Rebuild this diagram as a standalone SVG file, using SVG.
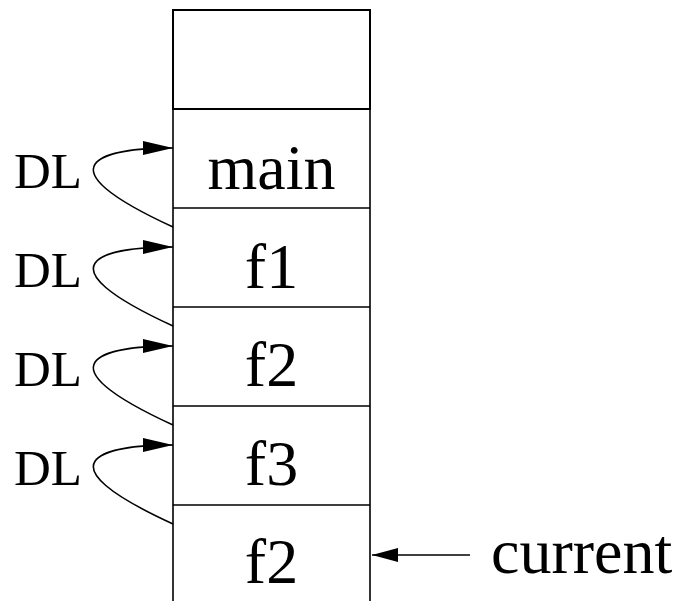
<svg xmlns="http://www.w3.org/2000/svg" width="681" height="601" viewBox="0 0 681 601">
<style>
.ln{stroke:#000;stroke-width:1.6;fill:none}
.lbl{font-family:"Liberation Serif",serif;font-size:64px;fill:#000}
.dl{font-family:"Liberation Serif",serif;font-size:51px;fill:#000}
</style>
<defs>
<marker id="ah" markerUnits="userSpaceOnUse" markerWidth="32" markerHeight="16" refX="30" refY="7" orient="auto">
<path d="M0,0 L30,7 L0,14 Z" fill="#000"/>
</marker>
<marker id="ah2" markerUnits="userSpaceOnUse" markerWidth="28" markerHeight="16" refX="26" refY="7" orient="auto">
<path d="M0,0 L26,7 L0,14 Z" fill="#000"/>
</marker>
</defs>
<rect width="681" height="601" fill="#fff"/>
<g id="stack">
<rect x="173" y="10" width="197" height="99" fill="none" stroke="#000" stroke-width="2"/>
<path class="ln" d="M173,109 V601 M370,109 V601 M173,208 H370 M173,307 H370 M173,406 H370 M173,505 H370"/>
</g>
<g id="frame-main"><text class="lbl" x="271.5" y="189" text-anchor="middle">main</text></g>
<g id="frame-f1"><text class="lbl" x="271.5" y="288" text-anchor="middle">f1</text></g>
<g id="frame-f2a"><text class="lbl" x="271.5" y="386" text-anchor="middle">f2</text></g>
<g id="frame-f3"><text class="lbl" x="271.5" y="485" text-anchor="middle">f3</text></g>
<g id="frame-f2b"><text class="lbl" x="271.5" y="583" text-anchor="middle">f2</text></g>
<g id="dl-labels">
<text class="dl" x="14" y="188">DL</text>
<text class="dl" x="14" y="287">DL</text>
<text class="dl" x="14" y="386">DL</text>
<text class="dl" x="14" y="485">DL</text>
</g>
<g id="current-label"><text class="lbl" x="491" y="573">current</text></g>
<g id="connectors">
<path class="ln" d="M173,227 C38,165 100,148 173,148" marker-end="url(#ah)"/>
<path class="ln" d="M173,326 C38,264 100,247 173,247" marker-end="url(#ah)"/>
<path class="ln" d="M173,425 C38,363 100,346 173,346" marker-end="url(#ah)"/>
<path class="ln" d="M173,524 C38,462 100,445 173,445" marker-end="url(#ah)"/>
<path class="ln" d="M470,555 H372" marker-end="url(#ah2)"/>
</g>
</svg>
